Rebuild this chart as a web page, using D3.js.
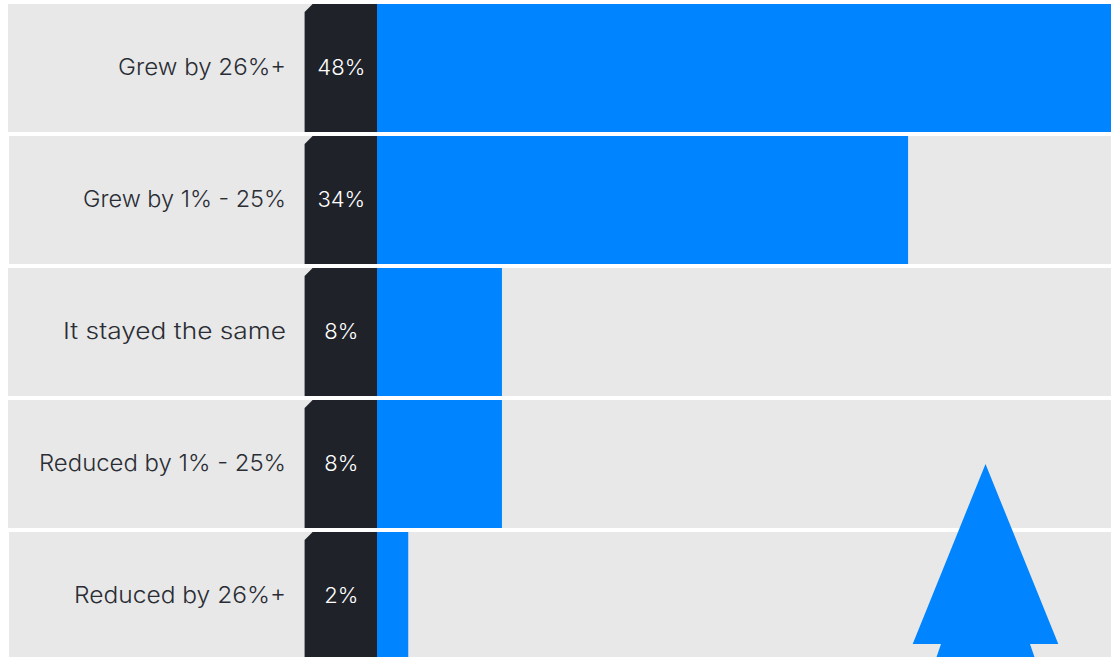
<!DOCTYPE html>
<html>
<head>
<meta charset="utf-8">
<script src="https://cdn.jsdelivr.net/npm/d3@7"></script>
<style>
  html, body { margin: 0; padding: 0; background: #fff; overflow: hidden; }
  svg { display: block; }
  text { font-family: "Inter", "Open Sans", sans-serif; font-weight: 350; }
</style>
</head>
<body>
<div id="chart"></div>
<script>
const categories = ["Grew by 26%+", "Grew by 1% - 25%", "It stayed the same", "Reduced by 1% - 25%", "Reduced by 26%+"];
const values = [48, 34, 8, 8, 2];
const rowStarts = [8, 9, 8, 8, 9];
const labelWidths = [168, 203, 223, 247, 212];

const width = 1111, height = 657;
const panelLeft = 304.6, panelRight = 377, chamfer = 8;
const treeCentre = 985.5;
// half-widths and heights of the tree outline, from the apex downwards
const treeOutline = [[0, 464], [72.8, 644], [44.5, 644], [50, 660]];

const svg = d3.select("#chart").append("svg")
  .attr("width", width).attr("height", height);

const y = d3.scaleBand().domain(categories).range([4, 660]).paddingInner(4 / 132);
const x = d3.scaleLinear().domain([0, 1]).range([panelRight, panelRight + 15.62]);

const rows = svg.selectAll("g.row").data(categories).join("g").attr("class", "row");

rows.append("rect")
  .attr("x", (d, i) => rowStarts[i])
  .attr("y", d => y(d))
  .attr("width", (d, i) => width - rowStarts[i])
  .attr("height", y.bandwidth())
  .attr("fill", "#e8e8e8");

rows.append("rect")
  .attr("x", panelRight)
  .attr("y", d => y(d))
  .attr("width", (d, i) => x(values[i]) - panelRight)
  .attr("height", y.bandwidth())
  .attr("fill", "#0084ff");

const panelPath = d3.line();
rows.append("path")
  .attr("d", d => panelPath([
    [panelLeft, y(d) + chamfer],
    [panelLeft + chamfer, y(d)],
    [panelRight, y(d)],
    [panelRight, y(d) + y.bandwidth()],
    [panelLeft, y(d) + y.bandwidth()]
  ]) + "Z")
  .attr("fill", "#1f2229");

rows.append("text")
  .attr("x", 286)
  .attr("y", d => y(d) + y.bandwidth() / 2 - 1)
  .attr("dy", "0.35em")
  .attr("text-anchor", "end")
  .attr("font-size", 23)
  .attr("textLength", (d, i) => labelWidths[i])
  .attr("lengthAdjust", "spacingAndGlyphs")
  .attr("fill", "#2a2d34")
  .text(d => d);

rows.append("text")
  .attr("x", (panelLeft + panelRight) / 2 + 0.5)
  .attr("y", d => y(d) + y.bandwidth() / 2 - 1)
  .attr("dy", "0.35em")
  .attr("text-anchor", "middle")
  .attr("font-size", 22)
  .attr("fill", "#ffffff")
  .text((d, i) => values[i] + "%");

// Tree-shaped ornament in the lower right corner, mirrored around its centre line
const right = treeOutline.map(([dx, py]) => [treeCentre + dx, py]);
const left = treeOutline.slice(1).reverse().map(([dx, py]) => [treeCentre - dx, py]);
svg.append("path")
  .attr("d", d3.line()(right.concat(left)) + "Z")
  .attr("fill", "#0084ff");
</script>
</body>
</html>
